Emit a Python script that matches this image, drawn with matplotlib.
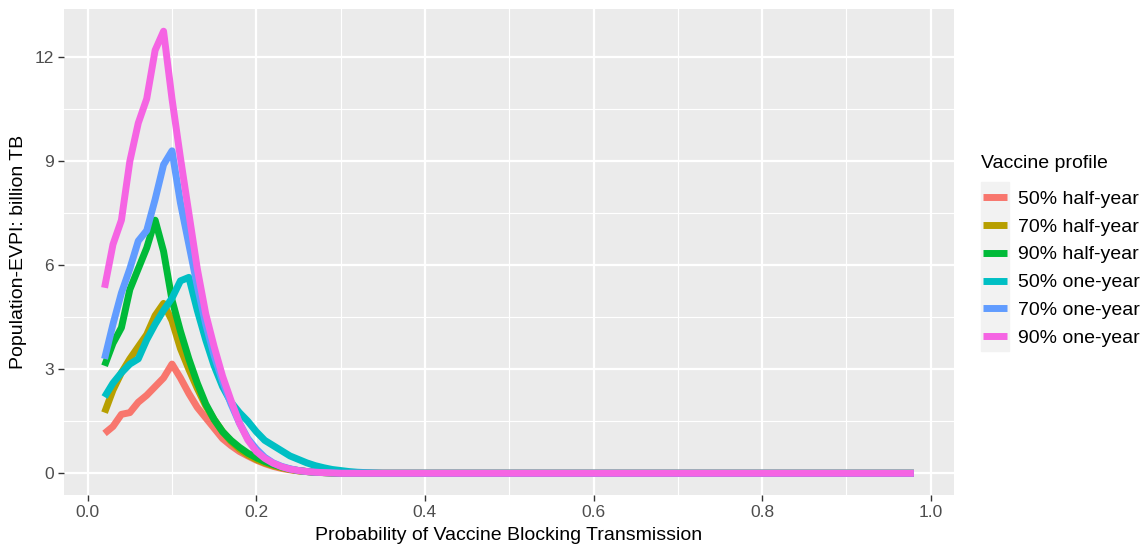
import matplotlib.pyplot as plt
from matplotlib.ticker import MultipleLocator
from matplotlib.patches import Rectangle

plt.rcParams['font.family'] = ['Liberation Sans', 'DejaVu Sans']

# probability grid 0.02 .. 0.98
prob = [round(0.02 + 0.01 * i, 2) for i in range(97)]

# values (first 34 points); the rest sit at zero
half50 = [1.15, 1.35, 1.7, 1.75, 2.05, 2.25, 2.5, 2.75, 3.15, 2.75,
          2.3, 1.9, 1.6, 1.3, 1.0, 0.8, 0.63, 0.5, 0.38, 0.28,
          0.2, 0.14, 0.1, 0.07, 0.05, 0.03, 0.02, 0.01, 0.0, 0.0,
          0.0, 0.0, 0.0, 0.0]
half70 = [1.75, 2.4, 2.9, 3.3, 3.65, 4.0, 4.55, 4.9, 4.4, 3.6,
          3.0, 2.45, 1.95, 1.55, 1.2, 0.92, 0.7, 0.53, 0.4, 0.3,
          0.22, 0.16, 0.11, 0.07, 0.05, 0.03, 0.02, 0.01, 0.0, 0.0,
          0.0, 0.0, 0.0, 0.0]
half90 = [3.1, 3.75, 4.2, 5.3, 5.9, 6.5, 7.3, 6.4, 5.0, 4.1,
          3.3, 2.6, 2.0, 1.55, 1.2, 0.95, 0.75, 0.58, 0.45, 0.34,
          0.25, 0.18, 0.12, 0.08, 0.05, 0.03, 0.02, 0.01, 0.0, 0.0,
          0.0, 0.0, 0.0, 0.0]
one50 = [2.2, 2.6, 2.9, 3.15, 3.3, 3.85, 4.3, 4.7, 5.05, 5.55,
         5.65, 4.7, 3.85, 3.1, 2.5, 2.05, 1.75, 1.5, 1.2, 0.95,
         0.8, 0.65, 0.5, 0.4, 0.3, 0.22, 0.16, 0.11, 0.08, 0.05,
         0.03, 0.02, 0.01, 0.0]
one70 = [3.3, 4.3, 5.2, 5.9, 6.7, 7.0, 7.9, 8.9, 9.3, 7.8,
         6.6, 5.4, 4.3, 3.4, 2.65, 2.0, 1.45, 1.0, 0.7, 0.46,
         0.3, 0.2, 0.13, 0.08, 0.05, 0.03, 0.02, 0.01, 0.0, 0.0,
         0.0, 0.0, 0.0, 0.0]
one90 = [5.35, 6.6, 7.3, 9.0, 10.1, 10.8, 12.2, 12.75, 10.8, 9.1,
         7.5, 5.9, 4.6, 3.65, 2.8, 2.1, 1.45, 0.96, 0.63, 0.43,
         0.29, 0.19, 0.12, 0.08, 0.05, 0.03, 0.02, 0.01, 0.0, 0.0,
         0.0, 0.0, 0.0, 0.0]
zero_tail = [0.0] * 63

labels = ['50% half-year', '70% half-year', '90% half-year',
          '50% one-year', '70% one-year', '90% one-year']
colors = ['#F8766D', '#B79F00', '#00BA38', '#00BFC4', '#619CFF', '#F564E3']
series = [half50, half70, half90, one50, one70, one90]

W, H = 1145, 547
fig = plt.figure(figsize=(W / 100, H / 100), dpi=100)
ax = fig.add_axes([64 / W, 1 - 495 / H, 890 / W, 486 / H])
ax.set_facecolor('#EBEBEB')

for vals, lab, col in zip(series, labels, colors):
    ax.plot(prob, vals + zero_tail, color=col, lw=5, label=lab,
            solid_capstyle='butt', solid_joinstyle='round')

ax.set_xlim(-0.0281, 1.0276)
ax.set_ylim(-0.626, 13.39)
ax.xaxis.set_major_locator(MultipleLocator(0.2))
ax.xaxis.set_minor_locator(MultipleLocator(0.1))
ax.yaxis.set_major_locator(MultipleLocator(3))
ax.yaxis.set_minor_locator(MultipleLocator(1.5))
ax.xaxis.set_major_formatter(plt.FuncFormatter(lambda v, p: f'{v:.1f}'))
ax.yaxis.set_major_formatter(plt.FuncFormatter(lambda v, p: f'{v:.0f}'))
ax.grid(which='major', color='white', lw=1.6)
ax.grid(which='minor', color='white', lw=0.8)
ax.set_axisbelow(True)
for s in ax.spines.values():
    s.set_visible(False)
ax.tick_params(which='major', length=4.5, color='#333333', labelcolor='#4D4D4D',
               labelsize=12.5, width=1, pad=3)
ax.tick_params(which='minor', length=0)

ax.set_xlabel('Probability of Vaccine Blocking Transmission', fontsize=14, labelpad=5)
ax.set_ylabel('Population-EVPI: billion TB', fontsize=14, labelpad=5)

# legend title and key background
fig.text(981 / W, 1 - 164 / H, 'Vaccine profile', fontsize=14, va='center', ha='left')
fig.patches.append(Rectangle((981 / W, 1 - 351 / H), 28 / W, 169 / H,
                             transform=fig.transFigure, color='#F2F2F2', zorder=0))

leg = fig.legend(*ax.get_legend_handles_labels(), loc='upper left',
                 bbox_to_anchor=(983 / W, 1 - 190 / H), frameon=False,
                 fontsize=14, handlelength=1.25, handletextpad=0.55,
                 labelspacing=0.53, borderpad=0, borderaxespad=0)
for h in leg.legend_handles:
    h.set_linewidth(5)

fig.savefig('out.png', dpi=100)
